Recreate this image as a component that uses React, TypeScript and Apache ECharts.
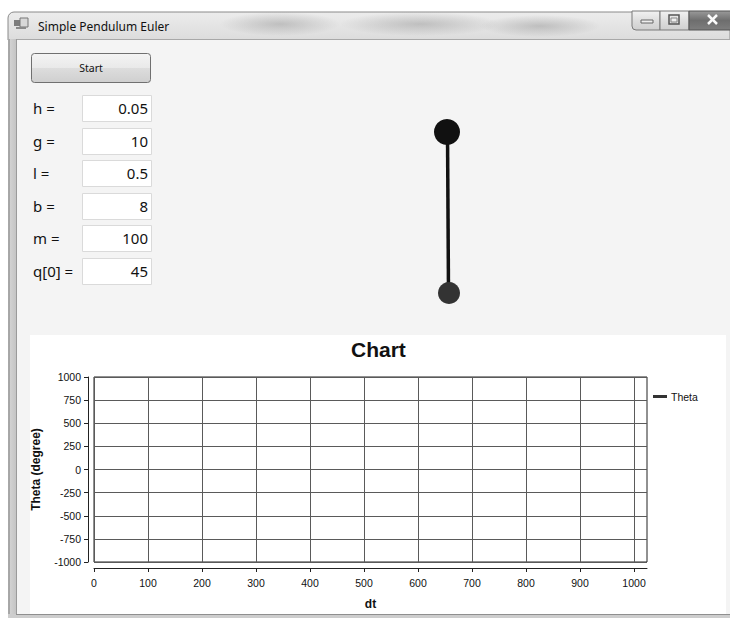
import React, { useEffect, useRef } from "react";
import * as echarts from "echarts";

const windowTitle = "Simple Pendulum Euler";
const buttonLabel = "Start";
const paramLabels = ["h =", "g =", "l =", "b =", "m =", "q[0] ="];
const paramValues = ["0.05", "10", "0.5", "8", "100", "45"];
const chartTitle = "Chart";
const seriesName = "Theta";
const xAxisName = "dt";
const yAxisName = "Theta (degree)";
const xTickValues = [0, 100, 200, 300, 400, 500, 600, 700, 800, 900, 1000];
const yTickValues = [-1000, -750, -500, -250, 0, 250, 500, 750, 1000];
const xMax = 1024;
const thetaValues: [number, number][] = [];

const UI_FONT = "'Noto Sans', 'Open Sans', sans-serif";
const CHART_FONT = "'Liberation Sans', Arial, sans-serif";

function buildGraphics(): any[] {
  const els: any[] = [];
  const CLIENT = "#f4f4f4";
  // title bar
  els.push({
    type: "rect",
    shape: { x: 8, y: 12, width: 722, height: 28, r: [6, 0, 0, 0] },
    style: {
      fill: new echarts.graphic.LinearGradient(0, 0, 0, 1, [
        { offset: 0, color: "#ececec" },
        { offset: 1, color: "#dcdcdc" },
      ]),
      stroke: "#8a8a8a",
      lineWidth: 1,
    },
  });
  // aero smudges
  const smudges = [
    { cx: 280, cy: 24, rx: 60, ry: 12 },
    { cx: 420, cy: 24, rx: 80, ry: 12 },
    { cx: 540, cy: 26, rx: 60, ry: 11 },
  ];
  smudges.forEach((s) =>
    els.push({
      type: "ellipse",
      shape: s,
      style: {
        fill: new echarts.graphic.RadialGradient(0.5, 0.5, 0.5, [
          { offset: 0, color: "rgba(120,120,120,0.35)" },
          { offset: 1, color: "rgba(120,120,120,0)" },
        ]),
      },
    })
  );
  // icon
  els.push({ type: "rect", shape: { x: 14, y: 20, width: 6, height: 6 }, style: { fill: "#7d7d7d" } });
  els.push({ type: "rect", shape: { x: 20, y: 18, width: 8, height: 9 }, style: { fill: "#d8d8d8", stroke: "#777", lineWidth: 1 } });
  els.push({ type: "rect", shape: { x: 16, y: 27, width: 10, height: 2 }, style: { fill: "#8a8a8a" } });
  els.push({
    type: "text",
    x: 38,
    y: 26,
    style: { text: windowTitle, fontSize: 12, fontFamily: UI_FONT, fill: "#111", align: "left", verticalAlign: "middle" },
  });
  // window buttons
  const btnGrad = new echarts.graphic.LinearGradient(0, 0, 0, 1, [
    { offset: 0, color: "#f2f2f2" },
    { offset: 0.5, color: "#dedede" },
    { offset: 1, color: "#cfcfcf" },
  ]);
  els.push({ type: "rect", shape: { x: 632, y: 11, width: 28, height: 19, r: [0, 0, 0, 4] }, style: { fill: btnGrad, stroke: "#7a7a7a", lineWidth: 1 } });
  els.push({ type: "rect", shape: { x: 660, y: 11, width: 29, height: 19 }, style: { fill: btnGrad, stroke: "#7a7a7a", lineWidth: 1 } });
  els.push({
    type: "rect",
    shape: { x: 689, y: 11, width: 46, height: 19 },
    style: {
      fill: new echarts.graphic.LinearGradient(0, 0, 0, 1, [
        { offset: 0, color: "#9a9a9a" },
        { offset: 0.5, color: "#6e6e6e" },
        { offset: 1, color: "#7e7e7e" },
      ]),
      stroke: "#555",
      lineWidth: 1,
    },
  });
  els.push({ type: "rect", shape: { x: 641, y: 20, width: 12, height: 3 }, style: { fill: "#eee", stroke: "#666", lineWidth: 1 } });
  els.push({ type: "rect", shape: { x: 669, y: 15, width: 10, height: 9 }, style: { fill: "none", stroke: "#555", lineWidth: 1.5 } });
  els.push({ type: "rect", shape: { x: 671, y: 18, width: 6, height: 4 }, style: { fill: "#eee", stroke: "#888", lineWidth: 1 } });
  els.push({ type: "line", shape: { x1: 708, y1: 15, x2: 717, y2: 24 }, style: { stroke: "#fafafa", lineWidth: 2.5 } });
  els.push({ type: "line", shape: { x1: 717, y1: 15, x2: 708, y2: 24 }, style: { stroke: "#fafafa", lineWidth: 2.5 } });

  // window side frame
  els.push({
    type: "rect",
    shape: { x: 8, y: 39, width: 9, height: 579 },
    style: {
      fill: new echarts.graphic.LinearGradient(0, 0, 1, 0, [
        { offset: 0, color: "#d6d6d6" },
        { offset: 1, color: "#c2c2c2" },
      ]),
    },
  });
  els.push({ type: "line", shape: { x1: 9, y1: 39, x2: 9, y2: 618 }, style: { stroke: "#7a7a7a", lineWidth: 1 } });
  els.push({ type: "line", shape: { x1: 16.5, y1: 39, x2: 16.5, y2: 614 }, style: { stroke: "#9a9a9a", lineWidth: 1 } });
  // bottom frame
  els.push({ type: "rect", shape: { x: 8, y: 614, width: 722, height: 4 }, style: { fill: "#cdcdcd" } });
  els.push({ type: "line", shape: { x1: 16, y1: 614.5, x2: 730, y2: 614.5 }, style: { stroke: "#8f8f8f", lineWidth: 1 } });

  // client area (around the white chart panel)
  els.push({ type: "rect", shape: { x: 17, y: 39, width: 713, height: 296 }, style: { fill: CLIENT } });
  els.push({ type: "rect", shape: { x: 17, y: 335, width: 13, height: 279 }, style: { fill: CLIENT } });
  els.push({ type: "rect", shape: { x: 726, y: 335, width: 4, height: 279 }, style: { fill: CLIENT } });
  els.push({ type: "line", shape: { x1: 17, y1: 39.5, x2: 730, y2: 39.5 }, style: { stroke: "#a8a8a8", lineWidth: 1 } });

  // Start button
  els.push({
    type: "rect",
    shape: { x: 31.5, y: 53.5, width: 119, height: 29, r: 3 },
    style: {
      fill: new echarts.graphic.LinearGradient(0, 0, 0, 1, [
        { offset: 0, color: "#f4f4f4" },
        { offset: 0.5, color: "#e9e9e9" },
        { offset: 0.5, color: "#dddddd" },
        { offset: 1, color: "#cfcfcf" },
      ]),
      stroke: "#707070",
      lineWidth: 1,
    },
  });
  els.push({
    type: "text",
    x: 91,
    y: 68,
    style: { text: buttonLabel, fontSize: 10.5, fontFamily: UI_FONT, fill: "#111", align: "center", verticalAlign: "middle" },
  });

  // parameter rows
  paramLabels.forEach((lab, i) => {
    const top = 95 + i * 32.6;
    els.push({
      type: "text",
      x: 33,
      y: top + 13,
      style: { text: lab, fontSize: 15, fontFamily: UI_FONT, fill: "#111", align: "left", verticalAlign: "middle" },
    });
    els.push({
      type: "rect",
      shape: { x: 82.5, y: Math.round(top) + 0.5, width: 69, height: 26 },
      style: { fill: "#ffffff", stroke: "#dadada", lineWidth: 1 },
    });
    els.push({
      type: "text",
      x: 148,
      y: top + 13,
      style: { text: paramValues[i], fontSize: 15, fontFamily: UI_FONT, fill: "#111", align: "right", verticalAlign: "middle" },
    });
  });

  // pendulum
  els.push({ type: "line", shape: { x1: 447.5, y1: 132, x2: 448.5, y2: 293 }, style: { stroke: "#111", lineWidth: 3.5 } });
  els.push({ type: "circle", shape: { cx: 447, cy: 132, r: 13 }, style: { fill: "#111" } });
  els.push({ type: "circle", shape: { cx: 449, cy: 293, r: 11 }, style: { fill: "#333" } });
  return els;
}

export default function App() {
  const ref = useRef<HTMLDivElement>(null);
  useEffect(() => {
    if (!ref.current) return;
    const chart = echarts.init(ref.current, undefined, { renderer: "svg" });
    chart.setOption({
      animation: false,
      backgroundColor: "#ffffff",
      title: {
        text: chartTitle,
        left: 351,
        top: 339,
        padding: 0,
        textStyle: { fontSize: 21, fontWeight: "bold", fontFamily: CHART_FONT, color: "#111" },
      },
      legend: {
        left: 653,
        top: 391,
        padding: 0,
        icon: "rect",
        itemWidth: 14,
        itemHeight: 3,
        itemGap: 5,
        textStyle: { fontSize: 10.5, fontFamily: CHART_FONT, color: "#111", padding: [0, 0, 0, -1] },
        data: [seriesName],
      },
      grid: {
        left: 94,
        top: 377,
        width: 553,
        height: 185,
        show: true,
        borderColor: "#222",
        borderWidth: 1,
        backgroundColor: "transparent",
      },
      xAxis: {
        type: "value",
        min: 0,
        max: xMax,
        interval: 100,
        offset: 6,
        name: xAxisName,
        nameLocation: "middle",
        nameGap: 30,
        nameTextStyle: { fontSize: 12, fontWeight: "bold", fontFamily: CHART_FONT, color: "#111" },
        axisLine: { show: true, onZero: false, lineStyle: { color: "#222", width: 1 } },
        axisTick: { show: true, length: 4, customValues: xTickValues, lineStyle: { color: "#222" } },
        axisLabel: {
          customValues: xTickValues,
          formatter: (v: number) => String(v),
          fontSize: 10.5,
          fontFamily: CHART_FONT,
          color: "#111",
          margin: 9,
        },
        splitLine: { show: true, lineStyle: { color: "#5a5a5a", width: 1 } },
      },
      yAxis: {
        type: "value",
        min: -1000,
        max: 1000,
        interval: 250,
        offset: 6,
        name: yAxisName,
        nameLocation: "middle",
        nameGap: 46,
        nameTextStyle: { fontSize: 12, fontWeight: "bold", fontFamily: CHART_FONT, color: "#111" },
        axisLine: { show: true, onZero: false, lineStyle: { color: "#222", width: 1 } },
        axisTick: { show: true, length: 4, customValues: yTickValues, lineStyle: { color: "#222" } },
        axisLabel: {
          customValues: yTickValues,
          formatter: (v: number) => String(v),
          fontSize: 10.5,
          fontFamily: CHART_FONT,
          color: "#111",
          margin: 7,
        },
        splitLine: { show: true, lineStyle: { color: "#5a5a5a", width: 1 } },
      },
      series: [
        {
          name: seriesName,
          type: "line",
          data: thetaValues,
          showSymbol: false,
          color: "#333",
          lineStyle: { width: 2, color: "#333" },
        },
      ],
      graphic: buildGraphics(),
    });
    return () => chart.dispose();
  }, []);
  return (
    <div
      ref={ref}
      style={{ position: "fixed", left: 0, top: 0, width: 730, height: 618 }}
    />
  );
}
